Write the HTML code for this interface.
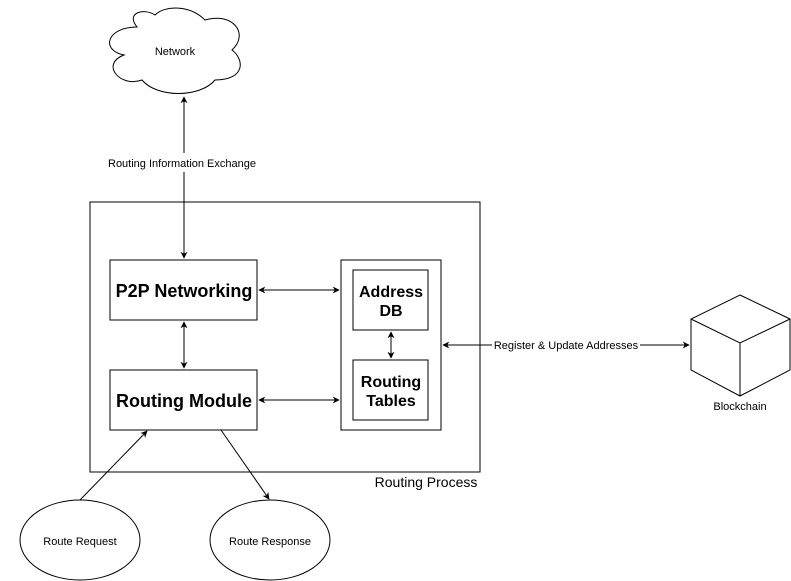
<!DOCTYPE html>
<html><head><style>body{margin:0;background:#fff}svg{display:block}text{font-family:"Liberation Sans",Arial,sans-serif}</style></head>
<body>
<svg width="791" height="581" viewBox="0 0 791 581" xmlns="http://www.w3.org/2000/svg">
<defs>
<marker id="a" viewBox="0 0 10 10" refX="9" refY="5" markerWidth="7" markerHeight="7" orient="auto-start-reverse" markerUnits="userSpaceOnUse"><path d="M0,0 L10,5 L0,10 L3,5 Z" fill="#000"/></marker>
</defs>
<g fill="none" stroke="#000" stroke-width="1">
<path d="M137,27 C107,27 100,50 124,55 C100,64 120,88 142,80 C157,98 200,98 215,80 C245,80 245,60 232,50 C250,33 232,12 205,20 C190,5 165,5 155,15 C145,8 125,12 137,27 Z"/>
<rect x="90" y="202" width="390" height="270"/>
<rect x="110" y="260" width="147" height="60"/>
<rect x="110" y="370" width="147" height="60"/>
<rect x="341" y="260" width="100" height="170"/>
<rect x="353" y="270" width="75" height="60"/>
<rect x="353" y="360" width="75" height="60"/>
<ellipse cx="80" cy="540" rx="60" ry="40"/>
<ellipse cx="270" cy="540" rx="60" ry="40"/>
<path d="M740,295 L790,319 L790,370 L740,396 L691,370 L691,319 Z M691,319 L740,343 L790,319 M740,343 L740,396"/>
<line x1="184" y1="97" x2="184" y2="153" marker-start="url(#a)"/>
<line x1="184" y1="172" x2="184" y2="258" marker-end="url(#a)"/>
<line x1="184" y1="322" x2="184" y2="368" marker-start="url(#a)" marker-end="url(#a)"/>
<line x1="259" y1="290" x2="339" y2="290" marker-start="url(#a)" marker-end="url(#a)"/>
<line x1="259" y1="400" x2="339" y2="400" marker-start="url(#a)" marker-end="url(#a)"/>
<line x1="391" y1="332" x2="391" y2="358" marker-start="url(#a)" marker-end="url(#a)"/>
<line x1="443" y1="345" x2="492" y2="345" marker-start="url(#a)"/>
<line x1="640" y1="345" x2="689" y2="345" marker-end="url(#a)"/>
<line x1="80" y1="500" x2="147" y2="431" marker-end="url(#a)"/>
<line x1="221" y1="430" x2="269" y2="499" marker-end="url(#a)"/>
</g>
<g fill="#000" text-anchor="middle">
<text x="175" y="55" font-size="11">Network</text>
<text x="182" y="167" font-size="11">Routing Information Exchange</text>
<text x="566" y="349" font-size="11">Register &amp; Update Addresses</text>
<text x="184" y="297" font-size="18" font-weight="bold">P2P Networking</text>
<text x="184" y="407" font-size="18" font-weight="bold">Routing Module</text>
<text x="391" y="297" font-size="16" font-weight="bold">Address</text>
<text x="391" y="316" font-size="16" font-weight="bold">DB</text>
<text x="391" y="387" font-size="16" font-weight="bold">Routing</text>
<text x="391" y="406" font-size="16" font-weight="bold">Tables</text>
<text x="426" y="487" font-size="14">Routing Process</text>
<text x="80" y="545" font-size="11">Route Request</text>
<text x="270" y="545" font-size="11">Route Response</text>
<text x="740" y="410" font-size="11">Blockchain</text>
</g>
</svg>
</body></html>
